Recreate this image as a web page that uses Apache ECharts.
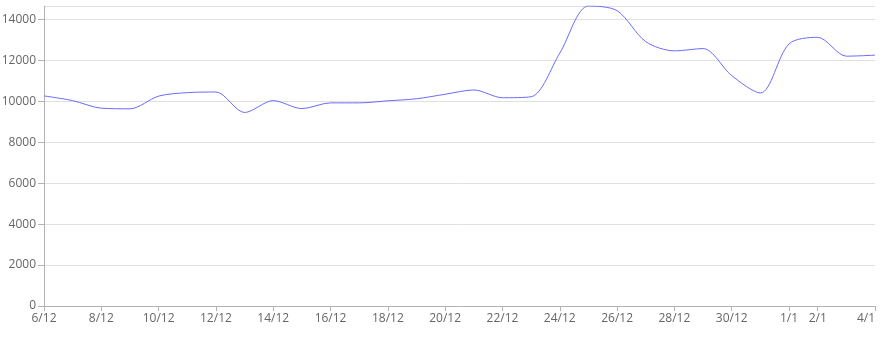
<!DOCTYPE html>
<html>
<head>
<meta charset="utf-8">
<script src="https://cdn.jsdelivr.net/npm/echarts@6/dist/echarts.min.js"></script>
<style>
html,body{margin:0;padding:0;background:#fff;}
#chart{width:886px;height:339px;}
</style>
</head>
<body>
<div id="chart"></div>
<script>
// Daily dates from 6/12 to 4/1
var dates = ['6/12','7/12','8/12','9/12','10/12','11/12','12/12','13/12','14/12','15/12',
  '16/12','17/12','18/12','19/12','20/12','21/12','22/12','23/12','24/12','25/12',
  '26/12','27/12','28/12','29/12','30/12','31/12','1/1','2/1','3/1','4/1'];
var values = [10260, 10030, 9660, 9630, 10250, 10420, 10450, 9450, 10030, 9640,
  9920, 9920, 10020, 10120, 10340, 10550, 10170, 10220, 12350, 14650,
  14420, 12910, 12460, 12570, 11250, 10400, 12800, 13120, 12200, 12250];
var tickLabels = ['6/12','8/12','10/12','12/12','14/12','16/12','18/12','20/12','22/12',
  '24/12','26/12','28/12','30/12','1/1','2/1','4/1'];

var tickIdx = tickLabels.map(function (l) { return dates.indexOf(l); });
var seriesData = values.map(function (v, i) { return [i, v]; });

var chart = echarts.init(document.getElementById('chart'));
var axisColor = '#b3b3b3';
var labelStyle = { color: '#666', fontSize: 12, fontFamily: 'Open Sans' };
chart.setOption({
  animation: false,
  grid: { left: 44, right: 11, top: 6, bottom: 33, containLabel: false, outerBoundsMode: 'none' },
  xAxis: {
    type: 'value',
    min: 0,
    max: dates.length - 1,
    axisLine: { show: true, lineStyle: { color: axisColor } },
    axisTick: { show: true, length: 5, customValues: tickIdx, lineStyle: { color: axisColor } },
    axisLabel: Object.assign({
      customValues: tickIdx,
      margin: 7,
      alignMaxLabel: 'right',
      formatter: function (v) { return dates[Math.round(v)]; }
    }, labelStyle),
    splitLine: { show: false }
  },
  yAxis: {
    type: 'value',
    min: 0,
    max: 'dataMax',
    interval: 2000,
    axisLine: { show: true, lineStyle: { color: axisColor } },
    axisTick: { show: true, length: 6, lineStyle: { color: axisColor } },
    axisLabel: Object.assign({ margin: 8, showMaxLabel: false,
      formatter: function (v) { return String(v); } }, labelStyle),
    splitLine: { show: true, lineStyle: { color: '#e0e0e0' } }
  },
  series: [{
    type: 'line',
    data: seriesData,
    smooth: 0.3,
    showSymbol: false,
    symbol: 'none',
    lineStyle: { color: '#6a6aff', width: 1 }
  }]
});
</script>
</body>
</html>
